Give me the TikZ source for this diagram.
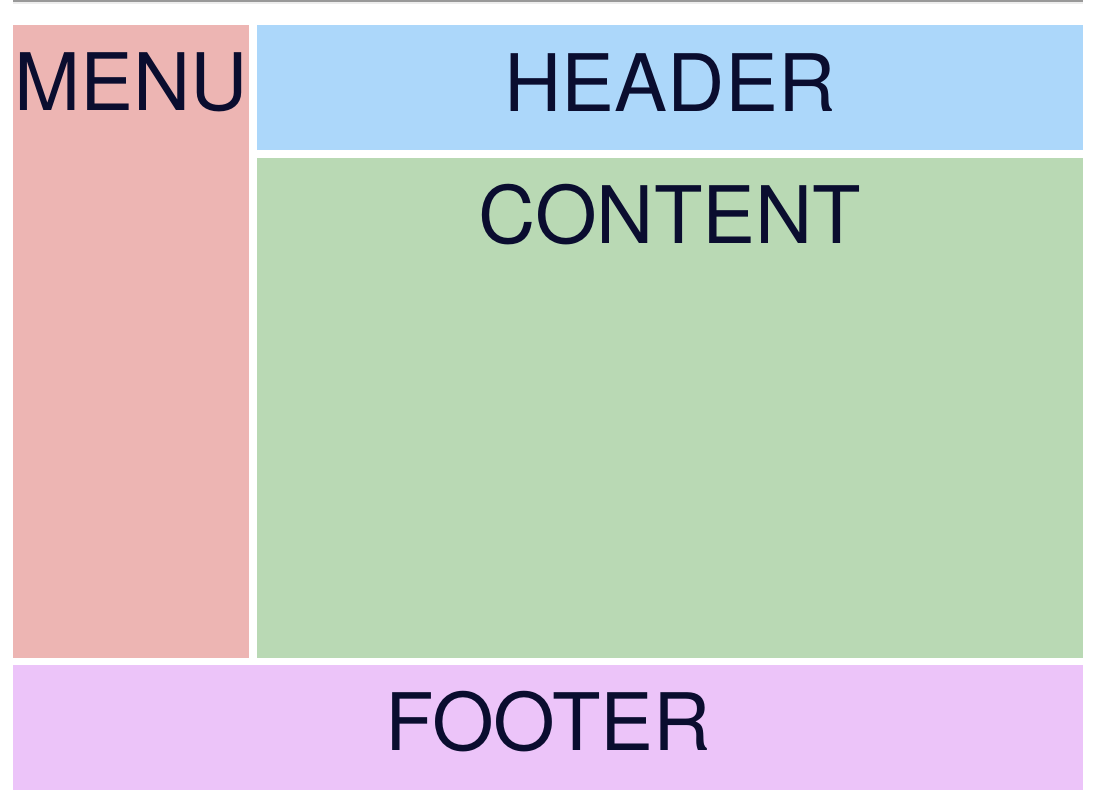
\documentclass[tikz,border=0pt]{standalone}
\usepackage{fontspec}
\setmainfont{TeX Gyre Heros}
\definecolor{menucolor}{RGB}{237,181,179}
\definecolor{headercolor}{RGB}{172,215,250}
\definecolor{contentcolor}{RGB}{185,217,180}
\definecolor{footercolor}{RGB}{236,196,249}
\definecolor{labelcolor}{RGB}{10,13,47}
\tikzstyle{regionlabel}=[anchor=base,inner sep=0pt,text=labelcolor,font=\fontsize{59.5}{60}\selectfont]
\newcommand{\region}[6]{% Syntax: {name}{colour}{x1}{y1}{x2}{y2}
    \fill[#2] (#3,#4) rectangle (#5,#6);
    \coordinate (#1top) at ({(#3+#5)/2},#4);
}

\begin{document}
\begin{tikzpicture}[x=0.75pt,y=-0.75pt]
  \fill[white] (0,0) rectangle (1094,808);
  \useasboundingbox (0,0) rectangle (1094,808);
  % rule along the top
  \fill[black!40] (13,0) rectangle (1083,1.8);
  \fill[black!7] (13,1.8) rectangle (1083,4);
  \region{menu}{menucolor}{13}{25}{249}{658}
  \region{header}{headercolor}{257}{25}{1083}{150}
  \region{content}{contentcolor}{257}{158}{1083}{658}
  \region{footer}{footercolor}{13}{665}{1083}{790}
  \node[regionlabel] (menulabel) at ([yshift=-85*0.75pt]menutop) {MENU};
  \node[regionlabel] (headerlabel) at ([yshift=-86*0.75pt]headertop) {HEADER};
  \node[regionlabel] (contentlabel) at ([yshift=-85*0.75pt]contenttop) {CONTENT};
  \node[regionlabel] (footerlabel) at ([yshift=-85*0.75pt]footertop) {FOOTER};
\end{tikzpicture}
\end{document}
